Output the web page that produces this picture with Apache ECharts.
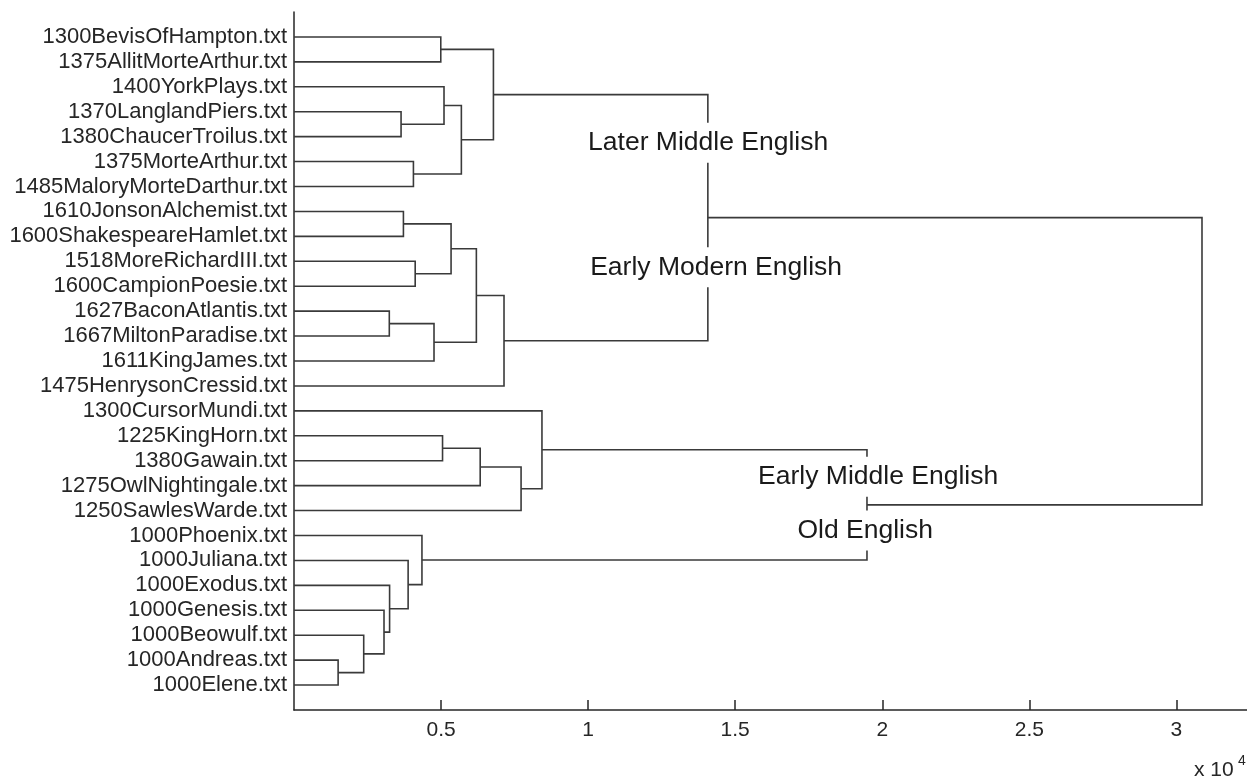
<!DOCTYPE html>
<html><head><meta charset="utf-8">
<script src="https://cdn.jsdelivr.net/npm/echarts@6/dist/echarts.min.js"></script>
<style>html,body{margin:0;padding:0;background:#fff}#c{width:1247px;height:778px}</style>
</head><body><div id="c"></div><script>
// Leaves, top to bottom
const leafNames = [
  '1300BevisOfHampton.txt','1375AllitMorteArthur.txt','1400YorkPlays.txt','1370LanglandPiers.txt',
  '1380ChaucerTroilus.txt','1375MorteArthur.txt','1485MaloryMorteDarthur.txt','1610JonsonAlchemist.txt',
  '1600ShakespeareHamlet.txt','1518MoreRichardIII.txt','1600CampionPoesie.txt','1627BaconAtlantis.txt',
  '1667MiltonParadise.txt','1611KingJames.txt','1475HenrysonCressid.txt','1300CursorMundi.txt',
  '1225KingHorn.txt','1380Gawain.txt','1275OwlNightingale.txt','1250SawlesWarde.txt',
  '1000Phoenix.txt','1000Juliana.txt','1000Exodus.txt','1000Genesis.txt','1000Beowulf.txt',
  '1000Andreas.txt','1000Elene.txt'
];
// Linkage: ids 0..26 are leaves, cluster k gets id 27+k
const mergeLeft   = [25,24,23,11,22, 3, 7,21, 5, 9,20,13, 0,16, 2,33,41,42,18,39,44,19,15,46,49,50];
const mergeRight  = [26,27,28,12,29, 4, 8,31, 6,10,34,30, 1,17,32,36,35,38,40,43,14,45,48,47,37,51];
const mergeHeight = [0.150,0.237,0.306,0.324,0.325,0.364,0.372,0.388,0.406,0.412,0.435,0.476,0.499,
                     0.505,0.510,0.534,0.569,0.620,0.633,0.678,0.714,0.772,0.843,1.407,1.948,3.087];
const xTicks = [0.5, 1, 1.5, 2, 2.5, 3];
const groupLabels = ['Later Middle English','Early Modern English','Early Middle English','Old English'];
const groupLabelX = [1.408, 1.435, 1.986, 1.942];
const groupLabelY = [5.24, 10.24, 18.64, 20.8];

const FONT = '"Liberation Sans", Arial, sans-serif';
const nodeX = [], nodeY = [];
leafNames.forEach((n, i) => { nodeX.push(0); nodeY.push(i + 1); });
const links = [];
mergeHeight.forEach((h, k) => {
  const a = mergeLeft[k], b = mergeRight[k];
  links.push({ coords: [[nodeX[a], nodeY[a]], [h, nodeY[a]], [h, nodeY[b]], [nodeX[b], nodeY[b]]] });
  nodeX.push(h); nodeY.push((nodeY[a] + nodeY[b]) / 2);
});

const chart = echarts.init(document.getElementById('c'), null, { renderer: 'canvas' });
chart.setOption({
  animation: false,
  backgroundColor: '#fff',
  grid: { left: 294, right: 0, top: 12, bottom: 68, containLabel: false },
  xAxis: {
    type: 'value', min: 0, max: 3.24, interval: 0.5, position: 'bottom',
    axisLine: { onZero: false, lineStyle: { color: '#262626', width: 1.5 } },
    axisTick: { inside: true, length: 10, customValues: xTicks, lineStyle: { color: '#262626', width: 1.5 } },
    axisLabel: { customValues: xTicks, color: '#262626', fontFamily: FONT, fontSize: 21, margin: 10,
      formatter: v => xTicks.indexOf(v) >= 0 ? String(v) : '' },
    splitLine: { show: false }
  },
  yAxis: {
    type: 'value', inverse: true, min: 0, max: 28, interval: 1,
    axisLine: { show: true, onZero: false, lineStyle: { color: '#262626', width: 1.5 } },
    axisTick: { show: false },
    splitLine: { show: false },
    axisLabel: { color: '#262626', fontFamily: FONT, fontSize: 22, margin: 7,
      formatter: v => (v >= 1 && v <= leafNames.length) ? leafNames[v - 1] : '' }
  },
  series: [
    { type: 'lines', coordinateSystem: 'cartesian2d', polyline: true, silent: true,
      lineStyle: { color: '#3a3a3a', width: 1.6, opacity: 1 }, data: links, z: 2 },
    { type: 'scatter', symbolSize: 0, silent: true, z: 5, itemStyle: { opacity: 1 },
      data: groupLabels.map((t, i) => ({ value: [groupLabelX[i], groupLabelY[i]], name: t })),
      label: { show: true, position: 'inside', formatter: p => p.name, color: '#1a1a1a', opacity: 1,
        fontFamily: FONT, fontSize: 26.5, backgroundColor: '#fff', padding: [5, 2], lineHeight: 30 } }
  ],
  graphic: [
    { type: 'text', left: 1194, top: 760, style: { text: 'x 10', font: '21px ' + FONT, fill: '#262626' } },
    { type: 'text', left: 1238, top: 754, style: { text: '4', font: '14px ' + FONT, fill: '#262626' } }
  ]
});
</script></body></html>
